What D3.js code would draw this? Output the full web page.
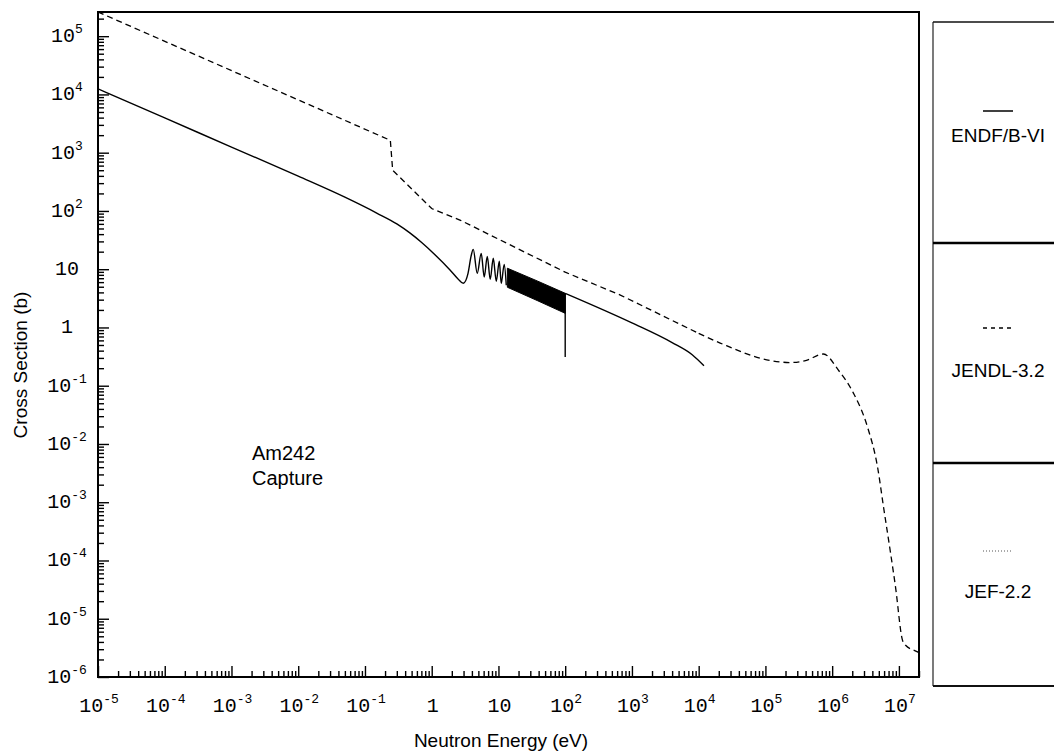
<!DOCTYPE html>
<html>
<head>
<meta charset="utf-8">
<script src="https://cdn.jsdelivr.net/npm/d3@7"></script>
<style>
  html, body { margin: 0; padding: 0; background: #fff; }
  svg { display: block; }
</style>
</head>
<body>
<svg id="chart" width="1054" height="753"></svg>
<script>
// ---- data ----
// ENDF/B-VI: smooth low-energy part followed by the first resolved resonances
const endfE = [1e-5, 1e-4, 1e-3, 1e-2, 0.05, 0.15, 0.3, 0.47, 0.7, 1.05, 1.88, 2.48, 2.97, 3.5, 3.9, 4.19,
               4.81, 5.52, 6.12, 6.8, 7.53, 8.36, 9.27, 10.3, 11.0, 12.2, 13.1];
const endfSigma = [12500, 3950, 1250, 395, 172, 92, 60, 42, 29, 19, 9.7, 6.8, 5.73, 8.5, 17, 21.9,
                   8.5, 18.7, 7.3, 16.6, 6.7, 15.4, 6.2, 13.7, 5.7, 12.1, 5.3];
// ENDF/B-VI: densely packed resonances, upper and lower envelope
const bandE = [13.6, 38, 100];
const bandTop = [10.4, 6.3, 3.86];
const bandBottom = [4.9, 2.9, 1.75];
// ENDF/B-VI: end of the resonance range and the smooth tail
const dropE = [100, 100];
const dropSigma = [3.86, 0.31];
const tailE = [100, 1000, 4000, 8000, 1.2e4];
const tailSigma = [3.86, 1.2, 0.55, 0.34, 0.22];

// JENDL-3.2: piecewise 1/v part up to 10 keV
const jendlLowE = [1e-5, 0.24, 0.26, 1.0, 2.7, 100, 670, 1e4];
const jendlLowSigma = [2.6e5, 1630, 500, 110, 69, 8.9, 3.6, 0.79];
// JENDL-3.2: smooth fast-neutron part
const jendlHighE = [1e4, 2.1e4, 1.19e5, 2.37e5, 4.0e5, 7.4e5, 1.24e6, 2.09e6, 3.39e6, 4.79e6, 5.89e6,
                    7.5e6, 8.9e6, 1.13e7, 1.26e7, 1.9e7, 2e7];
const jendlHighSigma = [0.79, 0.54, 0.27, 0.25, 0.27, 0.35, 0.185, 0.074, 0.0194, 0.004, 8.2e-4,
                        1.34e-4, 3.5e-5, 4.3e-6, 3.5e-6, 2.7e-6, 2.6e-6];

// axis decades and legend entries
const xExponents = d3.range(-5, 8);
const yExponents = d3.range(-6, 6);
const legendNames = ["ENDF/B-VI", "JENDL-3.2", "JEF-2.2"];
const legendDash = [null, "4,4", "1,2"];
const titleLines = ["Am242", "Capture"];

// ---- layout ----
const svg = d3.select("#chart");
const plot = { left: 98, right: 919, top: 12, bottom: 677 };

const x = d3.scaleLog().domain([1e-5, 2e7]).range([plot.left, plot.right]);
const y = d3.scaleLog().domain([1e-6, 2.6e5]).range([plot.bottom, plot.top]);

const minorVals = (exps, max) => {
  const out = [];
  exps.forEach(e => { for (let m = 2; m <= 9; m++) { const v = +(m + "e" + e); if (v <= max) out.push(v); } });
  return out;
};
const xMajor = xExponents.map(e => +("1e" + e));
const yMajor = yExponents.map(e => +("1e" + e));
const xMinor = minorVals(xExponents, 2e7);
const yMinor = minorVals(yExponents, 2.6e5);

// ---- ticks (inward) ----
function tickLayer(axis, transform) {
  const g = svg.append("g").attr("transform", transform).call(axis);
  g.select(".domain").remove();
  g.selectAll(".tick line").attr("stroke", "#000").attr("stroke-width", 1.4);
  g.selectAll(".tick text").remove();
  return g;
}
tickLayer(d3.axisBottom(x).tickValues(xMajor).tickSize(-11).tickFormat(""), `translate(0,${plot.bottom})`);
tickLayer(d3.axisBottom(x).tickValues(xMinor).tickSize(-6).tickFormat(""), `translate(0,${plot.bottom})`);
tickLayer(d3.axisLeft(y).tickValues(yMajor).tickSize(-11).tickFormat(""), `translate(${plot.left},0)`);
tickLayer(d3.axisLeft(y).tickValues(yMinor).tickSize(-6).tickFormat(""), `translate(${plot.left},0)`);

// ---- tick labels: 1, 10, 10^n ----
function powerLabel(sel, e) {
  if (e === 0) { sel.text("1"); return; }
  sel.text("10");
  if (e !== 1) sel.append("tspan").attr("dy", -9).attr("font-size", 13).text(e);
}
const mono = "'Liberation Mono', 'Courier New', monospace";
xExponents.forEach(e => {
  const t = svg.append("text")
    .attr("x", x(+("1e" + e)) + 1).attr("y", 712)
    .attr("text-anchor", "middle")
    .attr("font-family", mono).attr("font-size", 20).attr("fill", "#000");
  powerLabel(t, e);
});
yExponents.forEach(e => {
  const t = svg.append("text")
    .attr("x", 67).attr("y", y(+("1e" + e)) + 6)
    .attr("text-anchor", "middle")
    .attr("font-family", mono).attr("font-size", 20).attr("fill", "#000");
  powerLabel(t, e);
});

// ---- curves ----
svg.append("clipPath").attr("id", "plotClip")
  .append("rect").attr("x", plot.left).attr("y", plot.top)
  .attr("width", plot.right - plot.left).attr("height", plot.bottom - plot.top);
const curves = svg.append("g").attr("clip-path", "url(#plotClip)");

const line = (curve) => d3.line().x(d => x(d[0])).y(d => y(d[1])).curve(curve);
const zip = (a, b) => a.map((v, i) => [v, b[i]]);

curves.append("path")
  .attr("d", line(d3.curveMonotoneX)(zip(endfE, endfSigma)))
  .attr("fill", "none").attr("stroke", "#000").attr("stroke-width", 1.4);

curves.append("path")
  .attr("d", d3.area().x(d => x(d[0])).y0(d => y(d[2])).y1(d => y(d[1]))
    (bandE.map((e, i) => [e, bandTop[i], bandBottom[i]])))
  .attr("fill", "#000").attr("stroke", "#000").attr("stroke-width", 1);

curves.append("path")
  .attr("d", line(d3.curveLinear)(zip(dropE, dropSigma)))
  .attr("fill", "none").attr("stroke", "#000").attr("stroke-width", 1.4);

curves.append("path")
  .attr("d", line(d3.curveMonotoneX)(zip(tailE, tailSigma)))
  .attr("fill", "none").attr("stroke", "#000").attr("stroke-width", 1.4);

curves.append("path")
  .attr("d", line(d3.curveLinear)(zip(jendlLowE, jendlLowSigma)))
  .attr("fill", "none").attr("stroke", "#000").attr("stroke-width", 1.3)
  .attr("stroke-dasharray", "6,4");
curves.append("path")
  .attr("d", line(d3.curveMonotoneX)(zip(jendlHighE, jendlHighSigma)))
  .attr("fill", "none").attr("stroke", "#000").attr("stroke-width", 1.3)
  .attr("stroke-dasharray", "6,4");

// ---- frame ----
svg.append("rect")
  .attr("x", plot.left).attr("y", plot.top)
  .attr("width", plot.right - plot.left).attr("height", plot.bottom - plot.top)
  .attr("fill", "none").attr("stroke", "#000").attr("stroke-width", 2);

// ---- axis titles ----
const sans = "'Liberation Sans', Arial, Helvetica, sans-serif";
svg.append("text")
  .attr("x", 501).attr("y", 747).attr("text-anchor", "middle")
  .attr("font-family", sans).attr("font-size", 19).attr("fill", "#000")
  .text("Neutron Energy (eV)");
svg.append("text")
  .attr("transform", "translate(27,365) rotate(-90)").attr("text-anchor", "middle")
  .attr("font-family", sans).attr("font-size", 19).attr("fill", "#000")
  .text("Cross Section (b)");

// ---- in-plot title ----
titleLines.forEach((s, i) => {
  svg.append("text")
    .attr("x", 252).attr("y", 460 + i * 25)
    .attr("font-family", sans).attr("font-size", 20).attr("fill", "#000")
    .text(s);
});

// ---- legend ----
const legend = svg.append("g");
const legendTop = 22, legendBottom = 686, legendLeft = 933, legendRight = 1070;
const dividers = [243, 463];
legend.append("line").attr("x1", legendLeft).attr("x2", legendLeft)
  .attr("y1", legendTop).attr("y2", legendBottom).attr("stroke", "#222").attr("stroke-width", 1.2);
legend.append("line").attr("x1", legendLeft).attr("x2", legendRight)
  .attr("y1", legendTop).attr("y2", legendTop).attr("stroke", "#111").attr("stroke-width", 1.5);
legend.append("line").attr("x1", legendLeft).attr("x2", legendRight)
  .attr("y1", legendBottom).attr("y2", legendBottom).attr("stroke", "#111").attr("stroke-width", 2);
dividers.forEach(d => legend.append("line").attr("x1", legendLeft).attr("x2", legendRight)
  .attr("y1", d).attr("y2", d).attr("stroke", "#000").attr("stroke-width", 2.5));

const sampleY = [111, 328, 551];
const labelY = [142, 377, 598];
legendNames.forEach((name, i) => {
  legend.append("line")
    .attr("x1", 983).attr("x2", 1013).attr("y1", sampleY[i]).attr("y2", sampleY[i])
    .attr("stroke", i === 2 ? "#555" : "#000").attr("stroke-width", i === 2 ? 1 : 1.5)
    .attr("stroke-dasharray", legendDash[i]);
  legend.append("text")
    .attr("x", 998).attr("y", labelY[i]).attr("text-anchor", "middle")
    .attr("font-family", sans).attr("font-size", 19).attr("fill", "#000")
    .text(name);
});
</script>
</body>
</html>
